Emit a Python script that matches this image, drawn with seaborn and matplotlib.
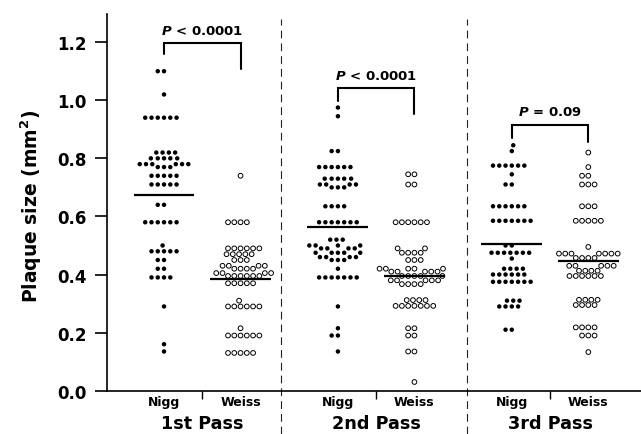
import numpy as np
import pandas as pd
import matplotlib
matplotlib.use("Agg")
import matplotlib.pyplot as plt
import seaborn as sns

# ---------------- data ----------------
passes = ["1st Pass", "2nd Pass", "3rd Pass"]
methods = ["Nigg", "Weiss"]

nigg_1st = [1.10, 1.10, 1.02,
            0.94, 0.94, 0.94, 0.94, 0.94, 0.94,
            0.82, 0.82, 0.82, 0.82,
            0.80, 0.80, 0.80, 0.80, 0.80,
            0.78, 0.78, 0.78, 0.78, 0.78, 0.78,
            0.77, 0.77, 0.77,
            0.74, 0.74, 0.74, 0.74, 0.74,
            0.71, 0.71, 0.71, 0.71, 0.71,
            0.64, 0.64,
            0.58, 0.58, 0.58, 0.58, 0.58, 0.58,
            0.50,
            0.48, 0.48, 0.48, 0.48, 0.48,
            0.45, 0.45,
            0.42, 0.42,
            0.39, 0.39, 0.39, 0.39,
            0.29, 0.16, 0.135]
weiss_1st = [0.74,
             0.58, 0.58, 0.58, 0.58,
             0.49, 0.49, 0.49, 0.49, 0.49, 0.49,
             0.47, 0.47, 0.47, 0.47, 0.47,
             0.45, 0.45, 0.45,
             0.43, 0.43, 0.43, 0.43,
             0.42, 0.42, 0.42, 0.42,
             0.405, 0.405, 0.405, 0.405,
             0.395, 0.395, 0.395, 0.395, 0.395, 0.395,
             0.37, 0.37, 0.37, 0.37, 0.37,
             0.31,
             0.29, 0.29, 0.29, 0.29, 0.29, 0.29,
             0.215,
             0.19, 0.19, 0.19, 0.19, 0.19, 0.19,
             0.13, 0.13, 0.13, 0.13, 0.13]
nigg_2nd = [0.975, 0.945,
            0.825, 0.825,
            0.77, 0.77, 0.77, 0.77, 0.77, 0.77,
            0.73, 0.73, 0.73, 0.73, 0.73,
            0.71, 0.71, 0.71, 0.71,
            0.70, 0.70, 0.70,
            0.635, 0.635, 0.635, 0.635,
            0.58, 0.58, 0.58, 0.58, 0.58, 0.58, 0.58,
            0.52, 0.52, 0.52,
            0.50, 0.50, 0.50, 0.50,
            0.49, 0.49, 0.49, 0.49,
            0.475, 0.475, 0.475, 0.475, 0.475,
            0.46, 0.46, 0.46, 0.46,
            0.45, 0.45, 0.45,
            0.42,
            0.39, 0.39, 0.39, 0.39, 0.39, 0.39, 0.39,
            0.29, 0.215, 0.19, 0.19, 0.135]
weiss_2nd = [0.745, 0.745,
             0.71, 0.71,
             0.58, 0.58, 0.58, 0.58, 0.58, 0.58,
             0.49, 0.49,
             0.475, 0.475, 0.475, 0.475,
             0.45, 0.45, 0.45,
             0.42, 0.42, 0.42, 0.42, 0.42,
             0.41, 0.41, 0.41, 0.41, 0.41,
             0.395, 0.395, 0.395, 0.395, 0.395,
             0.38, 0.38, 0.38, 0.38, 0.38,
             0.367, 0.367, 0.367, 0.367,
             0.312, 0.312, 0.312, 0.312,
             0.292, 0.292, 0.292, 0.292, 0.292, 0.292, 0.292,
             0.215, 0.215,
             0.19, 0.19,
             0.135, 0.135,
             0.03]
nigg_3rd = [0.845, 0.825,
            0.775, 0.775, 0.775, 0.775, 0.775, 0.775,
            0.745,
            0.71, 0.71,
            0.635, 0.635, 0.635, 0.635, 0.635, 0.635,
            0.585, 0.585, 0.585, 0.585, 0.585, 0.585, 0.585,
            0.50, 0.50,
            0.475, 0.475, 0.475, 0.475, 0.475, 0.475, 0.475,
            0.455,
            0.42, 0.42, 0.42, 0.42,
            0.40, 0.40, 0.40, 0.40, 0.40, 0.40,
            0.375, 0.375, 0.375, 0.375, 0.375, 0.375, 0.375,
            0.31, 0.31, 0.31,
            0.29, 0.29, 0.29, 0.29,
            0.21, 0.21]
weiss_3rd = [0.82, 0.77,
             0.74, 0.74,
             0.71, 0.71, 0.71,
             0.635, 0.635, 0.635,
             0.585, 0.585, 0.585, 0.585, 0.585,
             0.495,
             0.472, 0.472, 0.472, 0.472, 0.472, 0.472, 0.472,
             0.457, 0.457, 0.457, 0.457,
             0.43, 0.43, 0.43, 0.43, 0.43,
             0.413, 0.413, 0.413, 0.413,
             0.395, 0.395, 0.395, 0.395, 0.395, 0.395,
             0.313, 0.313, 0.313, 0.313,
             0.295, 0.295, 0.295, 0.295,
             0.218, 0.218, 0.218, 0.218,
             0.19, 0.19, 0.19,
             0.133]

group_means = [0.675, 0.385, 0.562, 0.395, 0.505, 0.446]   # Nigg/Weiss per pass
p_texts = ["< 0.0001", "< 0.0001", "= 0.09"]
y_ticks = [0.0, 0.2, 0.4, 0.6, 0.8, 1.0, 1.2]

series = {("1st Pass", "Nigg"): nigg_1st, ("1st Pass", "Weiss"): weiss_1st,
          ("2nd Pass", "Nigg"): nigg_2nd, ("2nd Pass", "Weiss"): weiss_2nd,
          ("3rd Pass", "Nigg"): nigg_3rd, ("3rd Pass", "Weiss"): weiss_3rd}
rows = [(p, m, v) for (p, m), vals in series.items() for v in vals]
df = pd.DataFrame(rows, columns=["pass", "method", "size"])

# ---------------- layout ----------------
OFF = 0.22   # half distance between the Nigg and Weiss columns
df["xpos"] = df["pass"].map({p: i for i, p in enumerate(passes)}) + \
    df["method"].map({"Nigg": -OFF, "Weiss": OFF})

# ---------------- style ----------------
sns.set_style("ticks")
plt.rcParams["font.family"] = ["DejaVu Sans"]
plt.rcParams["font.weight"] = "bold"
for k in ["text.color", "axes.labelcolor", "xtick.color", "ytick.color",
          "axes.edgecolor", "xtick.labelcolor", "ytick.labelcolor"]:
    plt.rcParams[k] = "black"
plt.rcParams["mathtext.fontset"] = "custom"
plt.rcParams["mathtext.rm"] = "DejaVu Sans:bold"
plt.rcParams["mathtext.it"] = "DejaVu Sans:italic:bold"
plt.rcParams["mathtext.bf"] = "DejaVu Sans:bold"

fig = plt.figure(figsize=(6.41, 4.35), dpi=100)
ax = fig.add_axes([107 / 641, 43.3 / 435, 1 - 107 / 641, 376.7 / 435])
ax.set_xlim(-0.548, 2.523)
ax.set_ylim(0, 1.297)

groups_colls = {}
for m in methods:
    n0 = len(ax.collections)
    sns.swarmplot(data=df[df["method"] == m], x="xpos", y="size", orient="x",
                  native_scale=True, color="black", size=4.3, linewidth=0,
                  legend=False, ax=ax)
    groups_colls[m] = ax.collections[n0:]

ax.set_xlim(-0.548, 2.523)
ax.set_ylim(0, 1.297)

# compute swarm layout with the spacing size, then shrink the visible markers
fig.canvas.draw()
for m, colls in groups_colls.items():
    for c in colls:
        c.__dict__.pop("draw", None)
        if m == "Nigg":
            c.set_sizes([3.2 ** 2])
            c.set_facecolor("black")
            c.set_edgecolor("none")
        else:
            c.set_sizes([3.4 ** 2])
            c.set_facecolor("none")
            c.set_edgecolor("black")
            c.set_linewidth(0.7)

# mean lines
for i, p in enumerate(passes):
    for j, m in enumerate(methods):
        xc = i + (-OFF if j == 0 else OFF)
        ax.hlines(group_means[2 * i + j], xc - 0.175, xc + 0.175,
                  color="black", lw=1.6, zorder=3)

# significance brackets
bracket_top = [1.197, 1.043, 0.915]
left_bot = [1.160, 0.998, 0.870]
right_bot = [1.108, 0.953, 0.857]
text_y = [1.239, 1.084, 0.960]
for i in range(3):
    xl, xr = i - OFF, i + OFF
    ax.plot([xl, xl, xr, xr], [left_bot[i], bracket_top[i], bracket_top[i], right_bot[i]],
            color="black", lw=1.5, solid_joinstyle="miter", clip_on=False)
    ax.text(i, text_y[i], rf"$P$ {p_texts[i]}", ha="center", va="center",
            fontsize=9.5, fontweight="bold")

# dashed separators
for xs in [0.454, 1.523]:
    ax.axvline(xs, ymin=-0.115, ymax=0.987, color="#222222", lw=0.8,
               dashes=(7, 4.5), clip_on=False)

# axes styling
sns.despine(ax=ax)
for s in ["left", "bottom"]:
    ax.spines[s].set_linewidth(1.2)
ax.set_yticks(y_ticks)
ax.set_yticklabels([f"{t:.1f}" for t in y_ticks])
ax.tick_params(axis="y", length=8.6, width=1.2, pad=6, labelsize=12)
ax.set_xticks([0, 1, 2])
ax.set_xticklabels(passes, fontsize=12.7, fontweight="bold")
ax.tick_params(axis="x", which="major", length=5.8, width=1.0, pad=11)
ax.set_xticks([i + d for i in range(3) for d in (-OFF, OFF)], minor=True)
ax.set_xticklabels(methods * 3, minor=True, fontsize=9, fontweight="bold")
ax.tick_params(axis="x", which="minor", length=0, pad=3)
ax.set_xlabel("")
ax.set_ylabel(r"Plaque size (mm$^{\mathbf{2}}$)", fontsize=13.5, fontweight="bold",
              va="center")
ax.yaxis.set_label_coords(-0.1417, 0.493)

fig.savefig("out.png", dpi=100)
